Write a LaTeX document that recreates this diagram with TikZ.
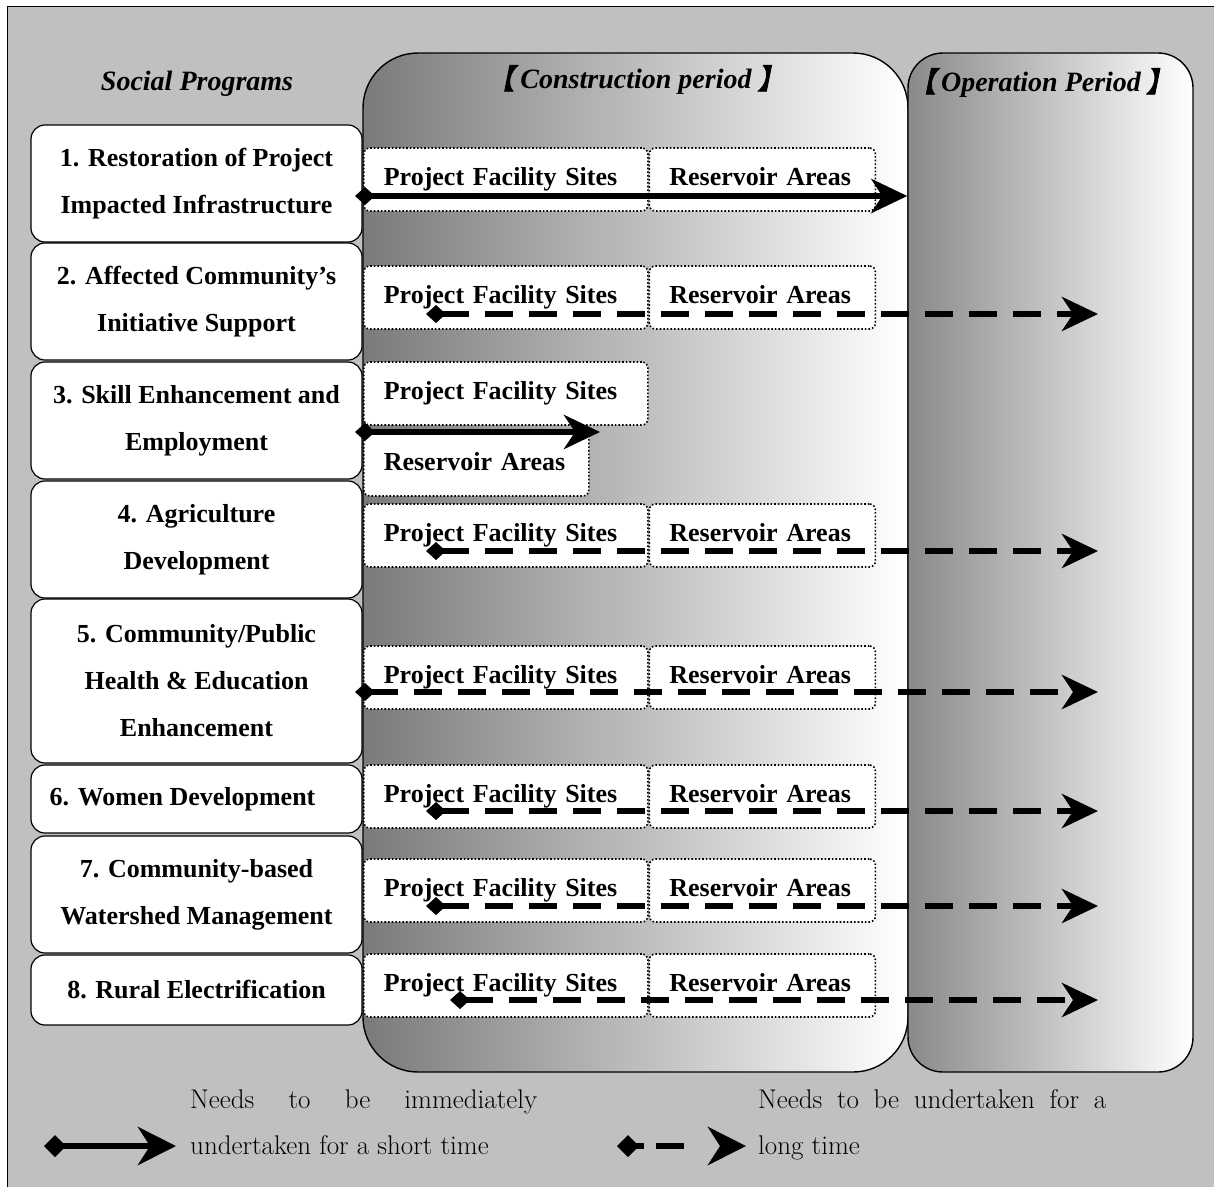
\documentclass[tikz,border=0pt]{standalone}
\usepackage{fontspec}
\newfontfamily\tnr{Liberation Serif}
\newfontfamily\cjk{Noto Sans CJK SC}[AutoFakeBold=3, AutoFakeSlant=0.2]
\usetikzlibrary{arrows.meta,positioning}
\definecolor{bggray}{HTML}{C0C0C0}

\tikzset{
  prog/.style={draw, line width=1.2pt, fill=white, rounded corners=14pt, minimum width=331pt,
    align=center, font=\tnr\bfseries\fontsize{26}{47}\selectfont},
  site/.style={draw, dotted, line width=1.6pt, fill=white, rounded corners=6pt, minimum height=63pt,
    inner xsep=20pt, text height=18pt, text depth=6pt, anchor=west,
    font=\tnr\bfseries\fontsize{26}{30}\selectfont},
  pfs/.style={site, text width=244pt},
  res/.style={site, text width=186pt},
  period/.style={draw, line width=1.4pt, minimum height=1019pt},
  head/.style={font=\tnr\bfseries\itshape\fontsize{28}{32}\selectfont},
  note/.style={anchor=base west, inner sep=0pt, font=\fontsize{27}{32}\selectfont},
  short/.style={line width=6.5pt, {Diamond[length=20pt,width=18pt]}-{Stealth[length=36pt,width=34pt,inset=11pt]}},
  long/.style={short, dash pattern=on 28pt off 16pt},
}

\begin{document}
\begin{tikzpicture}[x={(1pt,0)}, y={(0,-1pt)}]
\useasboundingbox (0,0) rectangle (1214,1187);
\fill[bggray] (7,6) rectangle (1214,1187);
\draw[line width=1pt] (7,1187) -- (7,6) -- (1214,6);

% periods
\node[period, left color=black!52, right color=white, rounded corners=55pt, minimum width=545pt] (con) at (635.5,562.5) {};
\node[period, left color=black!46, right color=white, rounded corners=35pt, minimum width=285pt] (op) at (1050.5,562.5) {};

\node[head] (sochead) at (197,84) {Social Programs};
\node[head] (conhead) at (636,80) {{\cjk 【}\hspace{6pt}Construction period\hspace{6pt}{\cjk 】}};
\node[head] (ophead) at (1041,83) {{\cjk 【}\hspace{5pt}Operation Period\hspace{5pt}{\cjk 】}};

% social programs
\node[prog, minimum height=117pt] (p1) at (196.5,183.5) {1. Restoration of Project\\Impacted Infrastructure};
\node[prog, minimum height=117pt] (p2) at (196.5,301.5) {2. Affected Community’s\\Initiative Support};
\node[prog, minimum height=117pt] (p3) at (196.5,420.5) {3. Skill Enhancement and\\Employment};
\node[prog, minimum height=117pt] (p4) at (196.5,539.5) {4. Agriculture\\Development};
\node[prog, minimum height=164pt] (p5) at (196.5,681) {5. Community/Public\\Health \& Education\\Enhancement};
\node[prog, minimum height=68pt] (p6) at (196.5,799) {6. Women Development\hspace*{28pt}};
\node[prog, minimum height=117pt] (p7) at (196.5,894.5) {7. Community-based\\Watershed Management};
\node[prog, minimum height=70pt] (p8) at (196.5,990) {8. Rural Electrification};

% sites
\node[pfs] (f1) at (363,179.5) {Project Facility Sites};
\node[res] (r1) at (f1.east) {Reservoir Areas};
\node[pfs] (f2) at (363,297.5) {Project Facility Sites};
\node[res] (r2) at (f2.east) {Reservoir Areas};
\node[pfs] (f3) at (363,393.5) {Project Facility Sites};
\node[site, text width=185pt] (r3) at (363,464.5) {Reservoir Areas};
\node[pfs] (f4) at (363,535.5) {Project Facility Sites};
\node[res] (r4) at (f4.east) {Reservoir Areas};
\node[pfs] (f5) at (363,677.5) {Project Facility Sites};
\node[res] (r5) at (f5.east) {Reservoir Areas};
\node[pfs] (f6) at (363,796.5) {Project Facility Sites};
\node[res] (r6) at (f6.east) {Reservoir Areas};
\node[pfs] (f7) at (363,890.5) {Project Facility Sites};
\node[res] (r7) at (f7.east) {Reservoir Areas};
\node[pfs] (f8) at (363,985.5) {Project Facility Sites};
\node[res] (r8) at (f8.east) {Reservoir Areas};

% durations
\coordinate (a1) at (355,196);
\coordinate (a2) at (426,314);  \coordinate (b2) at (1098,314);
\coordinate (a3) at (355,432);  \coordinate (b3) at (600,432);
\coordinate (a4) at (426,551);  \coordinate (b4) at (1098,551);
\coordinate (a5) at (355,692);  \coordinate (b5) at (1098,692);
\coordinate (a6) at (426,811);  \coordinate (b6) at (1098,811);
\coordinate (a7) at (426,906);  \coordinate (b7) at (1098,906);
\coordinate (a8) at (450,1000); \coordinate (b8) at (1098,1000);
\draw[short] (a1) -- (op.west |- a1);
\draw[long] (a2) -- (b2);
\draw[short] (a3) -- (b3);
\draw[long] (a4) -- (b4);
\draw[long] (a5) -- (b5);
\draw[long] (a6) -- (b6);
\draw[long] (a7) -- (b7);
\draw[long] (a8) -- (b8);

% legend
\coordinate (ls1) at (44,1146);  \coordinate (ls2) at (176,1146);
\coordinate (ll1) at (617,1146); \coordinate (ll2) at (746,1146);
\draw[short, {Diamond[length=22pt,width=22pt]}-{Stealth[length=38pt,width=38pt,inset=12pt]}] (ls1) -- (ls2);
\draw[short, {Diamond[length=22pt,width=22pt]}-{Stealth[length=38pt,width=38pt,inset=12pt]},
  dash pattern=on 10pt off 12pt on 28pt off 40pt] (ll1) -- (ll2);
\node[note] (n1) at (190,1108) {\hbox to 347pt{Needs\hfill to\hfill be\hfill immediately}};
\node[note] (n2) at (190,1154) {undertaken for a short time};
\node[note] (n3) at (758,1108) {\hbox to 348pt{Needs\hfill to\hfill be\hfill undertaken\hfill for\hfill a}};
\node[note] (n4) at (758,1154) {long time};
\end{tikzpicture}
\end{document}
